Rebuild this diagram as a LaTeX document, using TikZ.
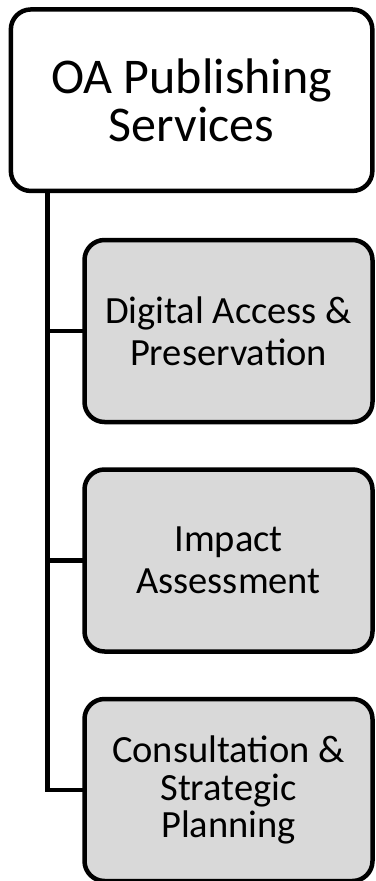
\documentclass[tikz,border=0pt]{standalone}
\usepackage{fontspec}
\setmainfont{Carlito}
\usepackage{xcolor}
\usetikzlibrary{positioning}
\definecolor{boxgray}{HTML}{D9D9D9}

\begin{document}
\begin{tikzpicture}[x=1pt,y=1pt]
        \tikzset{every node/.style={draw,rounded corners=20pt,line width=4.5pt,
                outer sep=0pt,align=center},
            rootbox/.style={minimum width=361.5pt,minimum height=181.5pt,fill=white,
                font=\fontsize{50}{48}\selectfont},
            subbox/.style={minimum width=288pt,minimum height=182pt,fill=boxgray,
                font=\fontsize{38.5}{42}\selectfont},
            branch/.style={draw,line width=4.5pt},
            node distance=47.5pt}
        \useasboundingbox (0,0) rectangle (375,-881);
        \coordinate (trunk) at (47.5,0);
        \node[rootbox] (oa) at (191.6,-100.2) {OA Publishing\\Services};
        \node[subbox] (digital) at (228.5,-331) {Digital Access \&\\Preservation};
        \node[subbox,below=of digital] (impact) {Impact\\Assessment};
        \node[subbox,below=of impact,font=\fontsize{38.5}{37.5}\selectfont] (consult)
            {Consultation \&\\Strategic\\Planning};
        \draw[branch] (trunk |- oa.south) |- (consult.west);
        \draw[branch] (trunk |- digital.west) -- (digital.west);
        \draw[branch] (trunk |- impact.west) -- (impact.west);
    \end{tikzpicture}
\end{document}
